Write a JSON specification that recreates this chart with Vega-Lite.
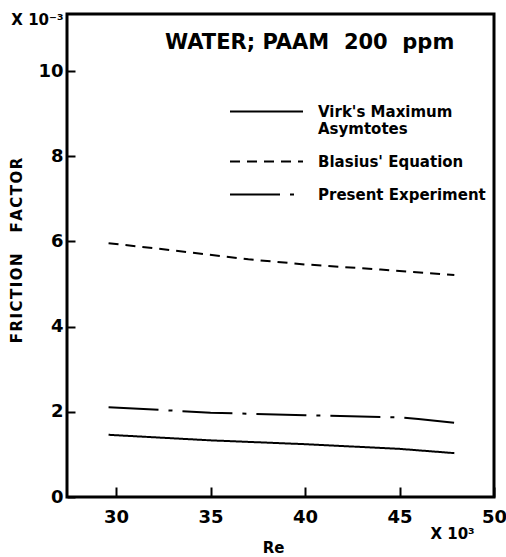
{
  "$schema": "https://vega.github.io/schema/vega-lite/v6.json",
  "width": 427,
  "height": 483,
  "autosize": {"type": "none"},
  "padding": {"left": 67, "top": 14, "right": 12, "bottom": 60},
  "background": "white",
  "config": {
    "view": {"stroke": "black", "strokeWidth": 3},
    "font": "DejaVu Sans"
  },
  "title": {
    "text": "WATER;\u00a0PAAM\u00a0\u00a0200\u00a0\u00a0ppm",
    "anchor": "start",
    "frame": "group",
    "dx": 98,
    "offset": -40,
    "fontSize": 21,
    "font": "DejaVu Sans",
    "fontWeight": "bold",
    "color": "black"
  },
  "data": {
    "values": [
      {"series": "Virk's Maximum|Asymtotes", "Re": 29.6, "f": 1.46},
      {"series": "Virk's Maximum|Asymtotes", "Re": 35, "f": 1.33},
      {"series": "Virk's Maximum|Asymtotes", "Re": 40, "f": 1.24},
      {"series": "Virk's Maximum|Asymtotes", "Re": 45, "f": 1.13},
      {"series": "Virk's Maximum|Asymtotes", "Re": 47.9, "f": 1.03},
      {"series": "Blasius' Equation", "Re": 29.6, "f": 5.96},
      {"series": "Blasius' Equation", "Re": 33, "f": 5.79},
      {"series": "Blasius' Equation", "Re": 37, "f": 5.58},
      {"series": "Blasius' Equation", "Re": 40, "f": 5.46},
      {"series": "Blasius' Equation", "Re": 44, "f": 5.34},
      {"series": "Blasius' Equation", "Re": 47.9, "f": 5.21},
      {"series": "Present Experiment", "Re": 29.6, "f": 2.11},
      {"series": "Present Experiment", "Re": 35, "f": 1.98},
      {"series": "Present Experiment", "Re": 40, "f": 1.92},
      {"series": "Present Experiment", "Re": 45, "f": 1.87},
      {"series": "Present Experiment", "Re": 46, "f": 1.83},
      {"series": "Present Experiment", "Re": 48, "f": 1.74}
    ]
  },
  "mark": {"type": "line", "strokeWidth": 2, "color": "black", "strokeCap": "butt"},
  "encoding": {
    "x": {
      "field": "Re",
      "type": "quantitative",
      "scale": {"domain": [27.4, 50], "nice": false, "zero": false},
      "axis": {
        "values": [30, 35, 40, 45, 47.78, 50],
        "labelExpr": "datum.value > 47 && datum.value < 49 ? 'X 10³' : datum.label",
        "grid": false,
        "domain": false,
        "ticks": true,
        "zindex": 1,
        "offset": -10,
        "tickSize": 10,
        "tickWidth": 2,
        "tickColor": {"condition": {"test": "datum.value > 47 && datum.value < 49", "value": "transparent"}, "value": "black"},
        "labelPadding": {"condition": {"test": "datum.value > 47 && datum.value < 49", "value": 29}, "value": 11},
        "labelFontSize": {"condition": {"test": "datum.value > 47 && datum.value < 49", "value": 15}, "value": 18},
        "labelFont": "DejaVu Sans",
        "labelFontWeight": "bold",
        "labelColor": "black",
        "labelFlush": false,
        "labelOverlap": false,
        "title": "Re",
        "titleFont": "DejaVu Sans",
        "titleFontWeight": "bold",
        "titleFontSize": 15,
        "titleColor": "black",
        "titleX": 206,
        "titleY": 60,
        "titleAlign": "center",
        "titleBaseline": "middle"
      }
    },
    "y": {
      "field": "f",
      "type": "quantitative",
      "scale": {"domain": [0, 11.34], "nice": false, "zero": true},
      "axis": {
        "values": [0, 2, 4, 6, 8, 10, 11.2],
        "labelExpr": "datum.value > 11 ? 'X 10⁻³' : datum.label",
        "grid": false,
        "domain": false,
        "ticks": true,
        "zindex": 1,
        "offset": -8,
        "tickSize": 8,
        "tickWidth": 2,
        "tickColor": {"condition": {"test": "datum.value > 11", "value": "transparent"}, "value": "black"},
        "labelPadding": 4,
        "labelFontSize": {"condition": {"test": "datum.value > 11", "value": 15}, "value": 18},
        "labelFont": "DejaVu Sans",
        "labelFontWeight": "bold",
        "labelColor": "black",
        "labelFlush": false,
        "labelOverlap": false,
        "title": "F\u200aR\u200aI\u200aC\u200aT\u200aI\u200aO\u200aN\u00a0\u00a0\u00a0\u00a0F\u200aA\u200aC\u200aT\u200aO\u200aR",
        "titleFont": "DejaVu Sans",
        "titleFontWeight": "bold",
        "titleFontSize": 15,
        "titleColor": "black",
        "titleAngle": -90,
        "titleX": -59,
        "titleY": 236,
        "titleAlign": "center",
        "titleBaseline": "middle"
      }
    },
    "strokeDash": {
      "field": "series",
      "type": "nominal",
      "scale": {
        "domain": ["Virk's Maximum|Asymtotes", "Blasius' Equation", "Present Experiment"],
        "range": [[1, 0], [10, 7], [50, 10, 4, 10]]
      },
      "legend": {
        "orient": "none",
        "legendX": 189,
        "legendY": 87,
        "title": null,
        "symbolType": "M-4,0H4",
        "symbolSize": 333,
        "symbolStrokeWidth": 2,
        "symbolStrokeColor": "black",
        "labelFont": "DejaVu Sans",
        "labelFontWeight": "bold",
        "labelFontSize": 15,
        "labelColor": "black",
        "labelOffset": 41,
        "labelLimit": 300,
        "labelExpr": "split(datum.label, '|')",
        "rowPadding": 14,
        "padding": 0
      }
    }
  }
}
